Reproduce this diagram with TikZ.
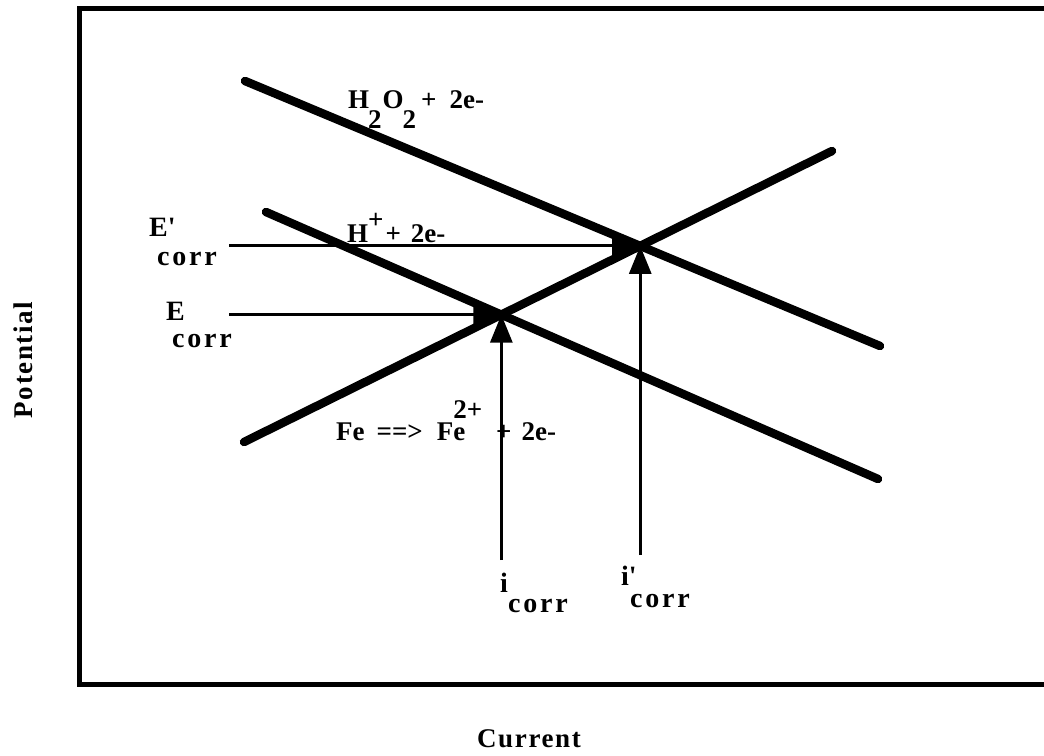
\documentclass[tikz,border=0pt]{standalone}
\usepackage{fontspec}
\setmainfont{Liberation Serif}
\newfontfamily\corrfont[LetterSpace=10]{Liberation Serif}
\newfontfamily\axisfont[LetterSpace=6]{Liberation Serif}
\usetikzlibrary{arrows.meta}
\begin{document}
\begin{tikzpicture}[x=1pt,y=-1pt,
  thickline/.style={line width=8.5pt, line cap=round},
  thinarrow/.style={line width=3pt, -{Triangle[width=22pt,length=28pt]}},
  lbl/.style={inner sep=0pt, anchor=base west, font=\fontsize{27}{30}\selectfont\bfseries},
  sublbl/.style={inner sep=0pt, anchor=base west, font=\fontsize{28}{30}\selectfont\corrfont\bfseries},
  axislbl/.style={inner sep=0pt, font=\fontsize{27}{30}\selectfont\axisfont\bfseries},
]
\useasboundingbox (0,0) rectangle (1044,755);
% frame (open on the right)
\draw[line width=5pt] (1044,8) -- (79,8) -- (79,684) -- (1044,684);

% polarisation lines
\coordinate (hoA) at (245,81);
\coordinate (hoB) at (880,346);
\coordinate (hpA) at (266,212);
\coordinate (hpB) at (878,479);
\coordinate (feA) at (244,442);
\coordinate (feB) at (832,151);
\coordinate (X1) at (intersection of hpA--hpB and feA--feB);
\coordinate (X2) at (intersection of hoA--hoB and feA--feB);

% helper coordinates for the arrows
\coordinate (lx) at (229,0);
\coordinate (by1) at (0,560);
\coordinate (by2) at (0,555);
\coordinate (E1s) at (X1 -| lx);
\coordinate (E2s) at (X2 -| lx);
\coordinate (i1s) at (X1 |- by1);
\coordinate (i2s) at (X2 |- by2);

\draw[thinarrow] (E1s) -- (X1);
\draw[thinarrow] (E2s) -- (X2);
\draw[thinarrow] (i1s) -- (X1);
\draw[thinarrow] (i2s) -- (X2);

\draw[thickline] (hoA) -- (hoB);
\draw[thickline] (hpA) -- (hpB);
\draw[thickline] (feA) -- (feB);

% reaction labels
\node[lbl] (h2o2) at (348,108) {H\kern-1pt\raisebox{-20pt}{2}\kern1pt O\kern-1pt\raisebox{-20pt}{2}\kern5pt+\kern13pt 2e-};
\node[lbl] (hplus) at (347,242) {H\raisebox{14pt}{+}\kern2pt+\kern10pt 2e-};
\node[lbl] (fe) at (336,440) {Fe\kern12pt ==>\kern14pt Fe\kern-12pt\raisebox{22pt}{2+}\kern14pt +\kern10pt 2e-};

% E labels
\node[sublbl] (Ep) at (149,236) {E\textquotesingle};
\node[sublbl] (Epc) at (157,265) {corr};
\node[sublbl] (E) at (166,320) {E};
\node[sublbl] (Ec) at (172,347) {corr};

% i labels
\node[sublbl] (ic) at (500,592) {i};
\node[sublbl] (icc) at (508,612) {corr};
\node[sublbl] (ip) at (621,585) {i\textquotesingle};
\node[sublbl] (ipc) at (630,607) {corr};

% axis labels
\node[axislbl, rotate=90] (pot) at (23,360) {Potential};
\node[axislbl, anchor=base] (cur) at (529,747) {Current};
\end{tikzpicture}
\end{document}
